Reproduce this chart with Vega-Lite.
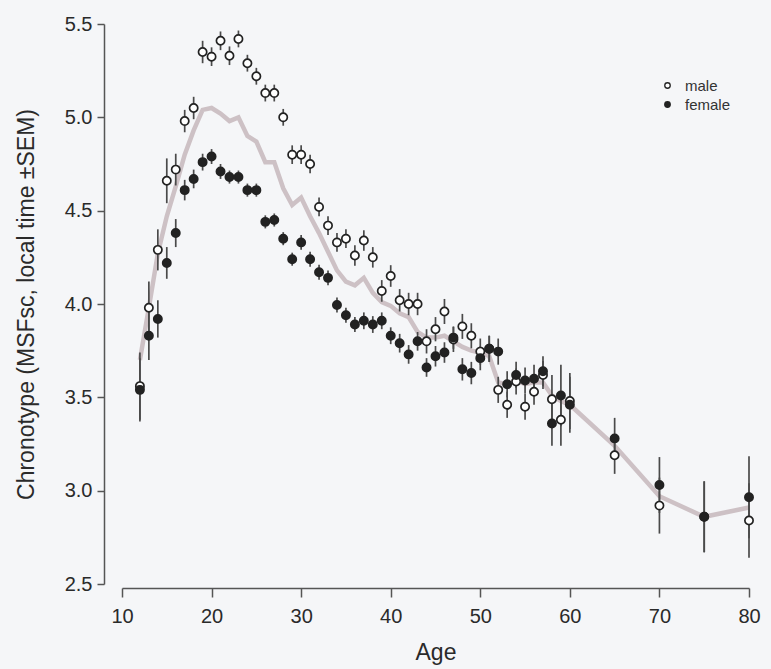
{
  "$schema": "https://vega.github.io/schema/vega-lite/v6.json",
  "autosize": {"type": "none"},
  "width": 627,
  "height": 560,
  "padding": {"left": 122, "top": 24, "right": 22, "bottom": 85},
  "background": "#f5f6f8",
  "config": {
    "view": {"stroke": null},
    "font": "Liberation Sans",
    "axis": {
      "grid": false,
      "domainColor": "#555555",
      "domainWidth": 1.5,
      "tickColor": "#555555",
      "tickWidth": 1.5,
      "labelColor": "#2a2a2a",
      "titleColor": "#2a2a2a",
      "labelFontSize": 20,
      "titleFontSize": 23,
      "titleFontWeight": "normal",
      "labelFont": "Liberation Sans",
      "titleFont": "Liberation Sans"
    }
  },
  "datasets": {
    "points": [
      {"age": 12, "sex": "male", "msf": 3.56, "sem": 0.18},
      {"age": 13, "sex": "male", "msf": 3.98, "sem": 0.14},
      {"age": 14, "sex": "male", "msf": 4.29, "sem": 0.11},
      {"age": 15, "sex": "male", "msf": 4.66, "sem": 0.12},
      {"age": 16, "sex": "male", "msf": 4.72, "sem": 0.085},
      {"age": 17, "sex": "male", "msf": 4.98, "sem": 0.06},
      {"age": 18, "sex": "male", "msf": 5.05, "sem": 0.06},
      {"age": 19, "sex": "male", "msf": 5.35, "sem": 0.06},
      {"age": 20, "sex": "male", "msf": 5.325, "sem": 0.05},
      {"age": 21, "sex": "male", "msf": 5.41, "sem": 0.05},
      {"age": 22, "sex": "male", "msf": 5.33, "sem": 0.05},
      {"age": 23, "sex": "male", "msf": 5.42, "sem": 0.045},
      {"age": 24, "sex": "male", "msf": 5.29, "sem": 0.045},
      {"age": 25, "sex": "male", "msf": 5.22, "sem": 0.045},
      {"age": 26, "sex": "male", "msf": 5.13, "sem": 0.045},
      {"age": 27, "sex": "male", "msf": 5.13, "sem": 0.045},
      {"age": 28, "sex": "male", "msf": 5.0, "sem": 0.045},
      {"age": 29, "sex": "male", "msf": 4.8, "sem": 0.05},
      {"age": 30, "sex": "male", "msf": 4.8, "sem": 0.05},
      {"age": 31, "sex": "male", "msf": 4.75, "sem": 0.05},
      {"age": 32, "sex": "male", "msf": 4.52, "sem": 0.05},
      {"age": 33, "sex": "male", "msf": 4.42, "sem": 0.05},
      {"age": 34, "sex": "male", "msf": 4.33, "sem": 0.05},
      {"age": 35, "sex": "male", "msf": 4.35, "sem": 0.05},
      {"age": 36, "sex": "male", "msf": 4.26, "sem": 0.055},
      {"age": 37, "sex": "male", "msf": 4.34, "sem": 0.055},
      {"age": 38, "sex": "male", "msf": 4.25, "sem": 0.055},
      {"age": 39, "sex": "male", "msf": 4.07, "sem": 0.058},
      {"age": 40, "sex": "male", "msf": 4.15, "sem": 0.058},
      {"age": 41, "sex": "male", "msf": 4.02, "sem": 0.06},
      {"age": 42, "sex": "male", "msf": 4.0, "sem": 0.06},
      {"age": 43, "sex": "male", "msf": 4.0, "sem": 0.06},
      {"age": 44, "sex": "male", "msf": 3.8, "sem": 0.065},
      {"age": 45, "sex": "male", "msf": 3.865, "sem": 0.065},
      {"age": 46, "sex": "male", "msf": 3.96, "sem": 0.067},
      {"age": 47, "sex": "male", "msf": 3.81, "sem": 0.067},
      {"age": 48, "sex": "male", "msf": 3.88, "sem": 0.067},
      {"age": 49, "sex": "male", "msf": 3.83, "sem": 0.067},
      {"age": 50, "sex": "male", "msf": 3.745, "sem": 0.07},
      {"age": 51, "sex": "male", "msf": 3.76, "sem": 0.07},
      {"age": 52, "sex": "male", "msf": 3.54, "sem": 0.07},
      {"age": 53, "sex": "male", "msf": 3.46, "sem": 0.07},
      {"age": 54, "sex": "male", "msf": 3.585, "sem": 0.07},
      {"age": 55, "sex": "male", "msf": 3.45, "sem": 0.07},
      {"age": 56, "sex": "male", "msf": 3.53, "sem": 0.07},
      {"age": 57, "sex": "male", "msf": 3.62, "sem": 0.075},
      {"age": 58, "sex": "male", "msf": 3.49, "sem": 0.13},
      {"age": 59, "sex": "male", "msf": 3.38, "sem": 0.14},
      {"age": 60, "sex": "male", "msf": 3.48, "sem": 0.15},
      {"age": 65, "sex": "male", "msf": 3.19, "sem": 0.1},
      {"age": 70, "sex": "male", "msf": 2.92, "sem": 0.15},
      {"age": 75, "sex": "male", "msf": 2.86, "sem": 0.19},
      {"age": 80, "sex": "male", "msf": 2.84, "sem": 0.2},
      {"age": 12, "sex": "female", "msf": 3.54, "sem": 0.17},
      {"age": 13, "sex": "female", "msf": 3.83, "sem": 0.13},
      {"age": 14, "sex": "female", "msf": 3.92, "sem": 0.1},
      {"age": 15, "sex": "female", "msf": 4.22, "sem": 0.085},
      {"age": 16, "sex": "female", "msf": 4.38, "sem": 0.075},
      {"age": 17, "sex": "female", "msf": 4.61, "sem": 0.055},
      {"age": 18, "sex": "female", "msf": 4.67, "sem": 0.05},
      {"age": 19, "sex": "female", "msf": 4.76, "sem": 0.045},
      {"age": 20, "sex": "female", "msf": 4.79, "sem": 0.04},
      {"age": 21, "sex": "female", "msf": 4.71, "sem": 0.04},
      {"age": 22, "sex": "female", "msf": 4.68, "sem": 0.035},
      {"age": 23, "sex": "female", "msf": 4.68, "sem": 0.035},
      {"age": 24, "sex": "female", "msf": 4.61, "sem": 0.035},
      {"age": 25, "sex": "female", "msf": 4.61, "sem": 0.035},
      {"age": 26, "sex": "female", "msf": 4.44, "sem": 0.035},
      {"age": 27, "sex": "female", "msf": 4.45, "sem": 0.035},
      {"age": 28, "sex": "female", "msf": 4.35, "sem": 0.035},
      {"age": 29, "sex": "female", "msf": 4.24, "sem": 0.035},
      {"age": 30, "sex": "female", "msf": 4.33, "sem": 0.04},
      {"age": 31, "sex": "female", "msf": 4.24, "sem": 0.04},
      {"age": 32, "sex": "female", "msf": 4.17, "sem": 0.04},
      {"age": 33, "sex": "female", "msf": 4.14, "sem": 0.04},
      {"age": 34, "sex": "female", "msf": 3.995, "sem": 0.04},
      {"age": 35, "sex": "female", "msf": 3.94, "sem": 0.04},
      {"age": 36, "sex": "female", "msf": 3.89, "sem": 0.04},
      {"age": 37, "sex": "female", "msf": 3.91, "sem": 0.045},
      {"age": 38, "sex": "female", "msf": 3.89, "sem": 0.045},
      {"age": 39, "sex": "female", "msf": 3.91, "sem": 0.045},
      {"age": 40, "sex": "female", "msf": 3.83, "sem": 0.045},
      {"age": 41, "sex": "female", "msf": 3.79, "sem": 0.05},
      {"age": 42, "sex": "female", "msf": 3.73, "sem": 0.05},
      {"age": 43, "sex": "female", "msf": 3.8, "sem": 0.05},
      {"age": 44, "sex": "female", "msf": 3.66, "sem": 0.05},
      {"age": 45, "sex": "female", "msf": 3.72, "sem": 0.055},
      {"age": 46, "sex": "female", "msf": 3.74, "sem": 0.055},
      {"age": 47, "sex": "female", "msf": 3.82, "sem": 0.06},
      {"age": 48, "sex": "female", "msf": 3.65, "sem": 0.06},
      {"age": 49, "sex": "female", "msf": 3.63, "sem": 0.06},
      {"age": 50, "sex": "female", "msf": 3.71, "sem": 0.065},
      {"age": 51, "sex": "female", "msf": 3.76, "sem": 0.07},
      {"age": 52, "sex": "female", "msf": 3.745, "sem": 0.07},
      {"age": 53, "sex": "female", "msf": 3.57, "sem": 0.07},
      {"age": 54, "sex": "female", "msf": 3.62, "sem": 0.07},
      {"age": 55, "sex": "female", "msf": 3.59, "sem": 0.07},
      {"age": 56, "sex": "female", "msf": 3.6, "sem": 0.075},
      {"age": 57, "sex": "female", "msf": 3.64, "sem": 0.08},
      {"age": 58, "sex": "female", "msf": 3.36, "sem": 0.12},
      {"age": 59, "sex": "female", "msf": 3.51, "sem": 0.165},
      {"age": 60, "sex": "female", "msf": 3.46, "sem": 0.15},
      {"age": 65, "sex": "female", "msf": 3.28, "sem": 0.11},
      {"age": 70, "sex": "female", "msf": 3.03, "sem": 0.15},
      {"age": 75, "sex": "female", "msf": 2.86, "sem": 0.19},
      {"age": 80, "sex": "female", "msf": 2.965, "sem": 0.22}
    ],
    "mean": [
      {"age": 12, "msf": 3.7},
      {"age": 13, "msf": 3.98},
      {"age": 14, "msf": 4.27},
      {"age": 15, "msf": 4.47},
      {"age": 16, "msf": 4.63},
      {"age": 17, "msf": 4.8},
      {"age": 18, "msf": 4.93},
      {"age": 19, "msf": 5.04},
      {"age": 20, "msf": 5.05},
      {"age": 21, "msf": 5.02},
      {"age": 22, "msf": 4.98},
      {"age": 23, "msf": 5.0},
      {"age": 24, "msf": 4.9},
      {"age": 25, "msf": 4.87},
      {"age": 26, "msf": 4.76},
      {"age": 27, "msf": 4.76},
      {"age": 28, "msf": 4.62},
      {"age": 29, "msf": 4.53},
      {"age": 30, "msf": 4.57},
      {"age": 31, "msf": 4.47},
      {"age": 32, "msf": 4.38},
      {"age": 33, "msf": 4.28},
      {"age": 34, "msf": 4.18},
      {"age": 35, "msf": 4.12},
      {"age": 36, "msf": 4.1},
      {"age": 37, "msf": 4.14},
      {"age": 38, "msf": 4.06},
      {"age": 39, "msf": 4.01},
      {"age": 40, "msf": 3.99},
      {"age": 41, "msf": 3.95},
      {"age": 42, "msf": 3.93},
      {"age": 43, "msf": 3.85},
      {"age": 44, "msf": 3.82},
      {"age": 45, "msf": 3.82},
      {"age": 46, "msf": 3.83},
      {"age": 47, "msf": 3.8},
      {"age": 48, "msf": 3.77},
      {"age": 49, "msf": 3.75},
      {"age": 50, "msf": 3.74},
      {"age": 51, "msf": 3.72},
      {"age": 52, "msf": 3.58},
      {"age": 53, "msf": 3.57},
      {"age": 54, "msf": 3.59},
      {"age": 55, "msf": 3.57},
      {"age": 56, "msf": 3.58},
      {"age": 57, "msf": 3.58},
      {"age": 58, "msf": 3.51},
      {"age": 59, "msf": 3.48},
      {"age": 60, "msf": 3.46},
      {"age": 65, "msf": 3.24},
      {"age": 70, "msf": 2.97},
      {"age": 75, "msf": 2.86},
      {"age": 80, "msf": 2.91}
    ]
  },
  "layer": [
    {
      "data": {"name": "mean"},
      "mark": {"type": "line", "color": "#cdc1c5", "strokeWidth": 4.5},
      "encoding": {
        "x": {
          "field": "age", "type": "quantitative", "title": "Age",
          "scale": {"domain": [10, 80], "nice": false, "zero": false},
          "axis": {
            "values": [10, 20, 30, 40, 50, 60, 70, 80],
            "offset": 4,
            "tickSize": 9,
            "labelPadding": 9,
            "titlePadding": 15,
            "labelFlush": false
          }
        },
        "y": {
          "field": "msf", "type": "quantitative", "title": "Chronotype (MSFsc, local time ±SEM)",
          "scale": {"domain": [2.5, 5.5], "nice": false, "zero": false},
          "axis": {
            "values": [2.5, 3.0, 3.5, 4.0, 4.5, 5.0, 5.5],
            "format": ".1f",
            "offset": 18,
            "tickSize": 7,
            "labelPadding": 5,
            "titlePadding": 26,
            "labelFlush": false
          }
        }
      }
    },
    {
      "data": {"name": "points"},
      "mark": {"type": "errorbar", "ticks": false, "color": "#4a4a4a", "thickness": 1.7},
      "encoding": {
        "x": {"field": "age", "type": "quantitative", "title": "Age"},
        "y": {"field": "msf", "type": "quantitative", "title": "Chronotype (MSFsc, local time ±SEM)"},
        "yError": {"field": "sem"}
      }
    },
    {
      "data": {"name": "points"},
      "mark": {"type": "point", "shape": "circle", "filled": false, "stroke": "#222222", "strokeWidth": 1.7, "size": 68, "opacity": 1},
      "encoding": {
        "x": {"field": "age", "type": "quantitative", "title": "Age"},
        "y": {"field": "msf", "type": "quantitative", "title": "Chronotype (MSFsc, local time ±SEM)"},
        "fill": {
          "field": "sex", "type": "nominal",
          "scale": {"domain": ["male", "female"], "range": ["#ffffff", "#222222"]},
          "legend": {
            "title": null,
            "orient": "none",
            "legendX": 538,
            "legendY": 54,
            "symbolType": "circle",
            "symbolSize": 30,
            "symbolStrokeColor": "#222222",
            "symbolStrokeWidth": 1.3,
            "labelFont": "Liberation Sans",
            "labelFontSize": 15,
            "labelColor": "#333333",
            "labelOffset": 10,
            "rowPadding": 3,
            "padding": 0
          }
        }
      }
    }
  ]
}
